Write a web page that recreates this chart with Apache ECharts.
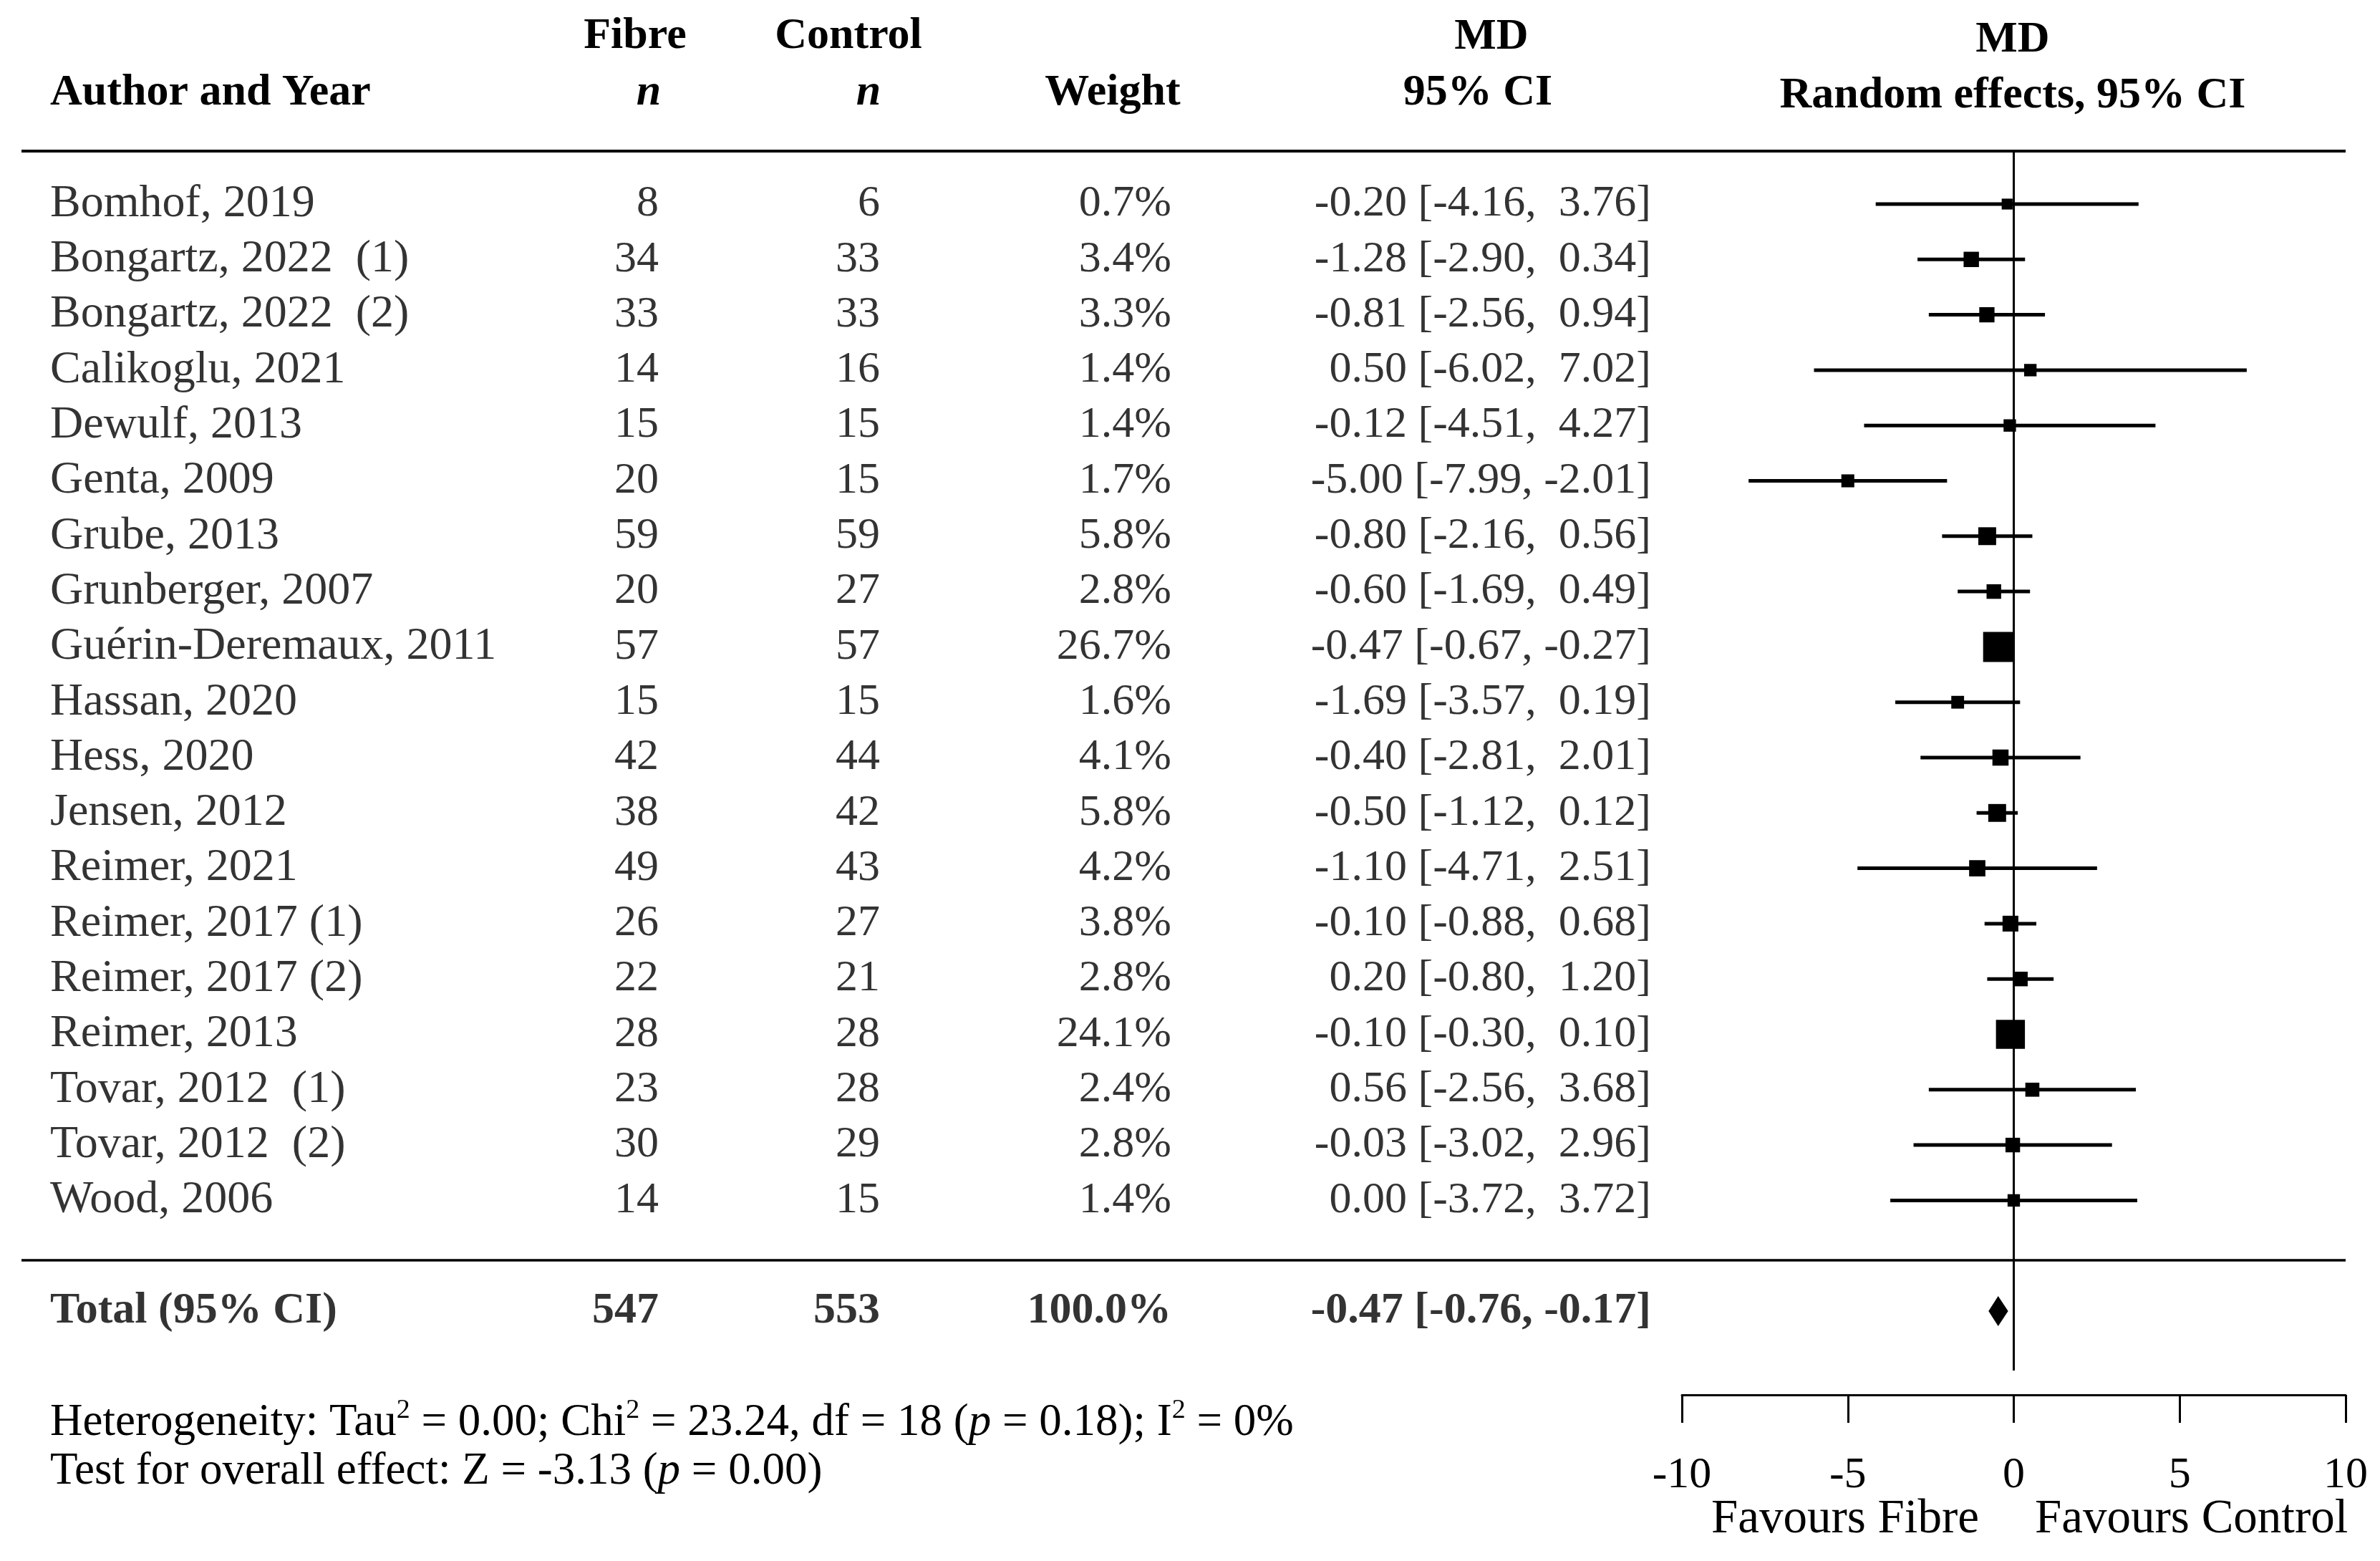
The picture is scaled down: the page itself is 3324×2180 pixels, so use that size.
<!DOCTYPE html>
<html><head><meta charset="utf-8">
<script src="https://cdn.jsdelivr.net/npm/echarts@6/dist/echarts.min.js"></script>
<style>html,body{margin:0;padding:0;background:#fff}#c{width:3324px;height:2180px}</style>
</head><body><div id="c"></div>
<script>
// ---------- data ----------
const studies = ['Bomhof, 2019','Bongartz, 2022  (1)','Bongartz, 2022  (2)','Calikoglu, 2021','Dewulf, 2013','Genta, 2009','Grube, 2013','Grunberger, 2007','Guérin-Deremaux, 2011','Hassan, 2020','Hess, 2020','Jensen, 2012','Reimer, 2021','Reimer, 2017 (1)','Reimer, 2017 (2)','Reimer, 2013','Tovar, 2012  (1)','Tovar, 2012  (2)','Wood, 2006'];
const fibreN   = [8,34,33,14,15,20,59,20,57,15,42,38,49,26,22,28,23,30,14];
const controlN = [6,33,33,16,15,15,59,27,57,15,44,42,43,27,21,28,28,29,15];
const weights  = [0.7,3.4,3.3,1.4,1.4,1.7,5.8,2.8,26.7,1.6,4.1,5.8,4.2,3.8,2.8,24.1,2.4,2.8,1.4];
const meanDiff = [-0.20,-1.28,-0.81,0.50,-0.12,-5.00,-0.80,-0.60,-0.47,-1.69,-0.40,-0.50,-1.10,-0.10,0.20,-0.10,0.56,-0.03,0.00];
const ciLow    = [-4.16,-2.90,-2.56,-6.02,-4.51,-7.99,-2.16,-1.69,-0.67,-3.57,-2.81,-1.12,-4.71,-0.88,-0.80,-0.30,-2.56,-3.02,-3.72];
const ciHigh   = [3.76,0.34,0.94,7.02,4.27,-2.01,0.56,0.49,-0.27,0.19,2.01,0.12,2.51,0.68,1.20,0.10,3.68,2.96,3.72];
const totalLabel = 'Total (95% CI)';
const totalValues = [547, 553, 100.0, -0.47, -0.76, -0.17]; // fibre n, control n, weight, MD, low, high
const xTicks = [-10, -5, 0, 5, 10];
const headers = ['Author and Year','Fibre','Control','n','Weight','MD','95% CI','Random effects, 95% CI'];
const favours = ['Favours Fibre','Favours Control'];

// ---------- layout ----------
const FONT = "'Liberation Serif','Times New Roman',serif";
const FS = 62;
const W = 3324;
const TOP = 211, AXIS_Y = 1948, PLOT_L = 2349, PLOT_R = 3276;
const ROW0 = 285, PITCH = 77.3;
const yMin = -(ROW0 - TOP) / PITCH;
const yMax = yMin + (AXIS_Y - TOP) / PITCH;
const toV = px => yMin + (px - TOP) / PITCH;
const totalRow = studies.length + 1;
const LINE_L = 30;

const fmt2 = v => v.toFixed(2);
const ciText = (m, lo, hi) => fmt2(m) + ' [' + fmt2(lo) + ', ' + (hi >= 0 ? ' ' : '') + fmt2(hi) + ']';

function textColumn(values, totalText, x, pos, fs) {
  const data = values.map((v, i) => ({ value: [x, i], name: String(v) }));
  data.push({ value: [x, totalRow], name: totalText, label: { fontWeight: 'bold', fontSize: FS } });
  return {
    type: 'scatter', xAxisIndex: 1, yAxisIndex: 1, symbolSize: 0.1, clip: false,
    itemStyle: { color: 'rgba(0,0,0,0)' }, silent: true,
    label: { show: true, position: pos, distance: 0, color: '#000', fontSize: fs || FS, fontFamily: FONT,
             formatter: p => p.name },
    data
  };
}

const ciSeries = {
  type: 'custom', xAxisIndex: 0, yAxisIndex: 0, clip: false,
  encode: { x: [0, 1, 2], y: 4 },
  data: studies.map((s, i) => [meanDiff[i], ciLow[i], ciHigh[i], weights[i], i]),
  renderItem: (params, api) => {
    const m = api.value(0), lo = api.value(1), hi = api.value(2), w = api.value(3), r = api.value(4);
    const a = api.coord([lo, r]), b = api.coord([hi, r]), c = api.coord([m, r]);
    const s = 10 + 6.2 * Math.sqrt(w);
    return { type: 'group', children: [
      { type: 'line', shape: { x1: a[0], y1: a[1], x2: b[0], y2: b[1] }, style: { stroke: '#000', lineWidth: 5 } },
      { type: 'rect', shape: { x: c[0] - s / 2, y: c[1] - s / 2, width: s, height: s }, style: { fill: '#000' } }
    ]};
  }
};

const diamondSeries = {
  type: 'custom', xAxisIndex: 0, yAxisIndex: 0, clip: false,
  encode: { x: [0, 1, 2], y: 3 },
  data: [[totalValues[3], totalValues[4], totalValues[5], totalRow]],
  renderItem: (params, api) => {
    const m = api.value(0), lo = api.value(1), hi = api.value(2), r = api.value(3);
    const a = api.coord([lo, r]), b = api.coord([hi, r]), c = api.coord([m, r]);
    const h = 21;
    return { type: 'polygon', shape: { points: [[a[0], a[1]], [c[0], c[1] - h], [b[0], b[1]], [c[0], c[1] + h]] },
             style: { fill: '#000' } };
  }
};

const zeroLine = {
  type: 'line', xAxisIndex: 0, yAxisIndex: 0, symbol: 'none', clip: false, silent: true,
  lineStyle: { color: '#000', width: 3 },
  data: [[0, yMin], [0, toV(1914)]]
};
function hLine(py, width) {
  return { type: 'line', xAxisIndex: 1, yAxisIndex: 1, symbol: 'none', clip: false, silent: true,
           lineStyle: { color: '#000', width }, data: [[LINE_L, toV(py)], [PLOT_R, toV(py)]] };
}

function txt(x, y, text, align, extra) {
  return { type: 'text', x, y, silent: true,
    style: Object.assign({ text, fill: '#000', fontSize: FS, fontFamily: FONT, align, verticalAlign: 'middle' }, extra || {}) };
}
const B = { fontWeight: 'bold' };
const FF = 63;

const graphics = [
  txt(70, 130, headers[0], 'left', B),
  txt(887, 51, headers[1], 'center', B),
  txt(906, 130, headers[3], 'center', { fontWeight: 'bold', fontStyle: 'italic' }),
  txt(1185, 51, headers[2], 'center', B),
  txt(1213, 130, headers[3], 'center', { fontWeight: 'bold', fontStyle: 'italic' }),
  txt(1554, 130, headers[4], 'center', B),
  txt(2083, 52, headers[5], 'center', B),
  txt(2064, 130, headers[6], 'center', B),
  txt(2811, 56, headers[5], 'center', B),
  txt(2811, 134, headers[7], 'center', B),
  txt(2764, 2122, favours[0], 'right', { fontSize: 67 }),
  txt(2842, 2122, favours[1], 'left', { fontSize: 67 }),
  { type: 'text', x: 70, y: 1987, silent: true, style: {
      text: '{t|Heterogeneity: Tau}{s|2}{t| = 0.00; Chi}{s|2}{t| = 23.24, df = 18 (}{i|p}{t| = 0.18); I}{s|2}{t| = 0%}',
      align: 'left', verticalAlign: 'middle', fill: '#000', fontFamily: FONT, fontSize: FF,
      rich: { t: { fontSize: FF, fontFamily: FONT, lineHeight: 72, fill: '#000' },
              i: { fontSize: FF, fontFamily: FONT, lineHeight: 72, fontStyle: 'italic', fill: '#000' },
              s: { fontSize: 38, fontFamily: FONT, lineHeight: 38, verticalAlign: 'top', fill: '#000' } } } },
  { type: 'text', x: 70, y: 2055, silent: true, style: {
      text: '{t|Test for overall effect: Z = -3.13 (}{i|p}{t| = 0.00)}',
      align: 'left', verticalAlign: 'middle', fill: '#000', fontFamily: FONT, fontSize: FF,
      rich: { t: { fontSize: FF, fontFamily: FONT, lineHeight: 72, fill: '#000' },
              i: { fontSize: FF, fontFamily: FONT, lineHeight: 72, fontStyle: 'italic', fill: '#000' } } } }
];

const chart = echarts.init(document.getElementById('c'), null, { renderer: 'canvas' });
chart.setOption({
  backgroundColor: '#fff',
  animation: false,
  textStyle: { fontFamily: FONT, color: '#000' },
  grid: [
    { left: PLOT_L, top: TOP, width: PLOT_R - PLOT_L, height: AXIS_Y - TOP, containLabel: false, outerBoundsMode: 'none' },
    { left: 0, top: TOP, width: W, height: AXIS_Y - TOP, containLabel: false, outerBoundsMode: 'none' }
  ],
  xAxis: [
    { type: 'value', gridIndex: 0, min: xTicks[0], max: xTicks[xTicks.length - 1], interval: xTicks[1] - xTicks[0],
      axisLine: { show: true, onZero: false, lineStyle: { color: '#000', width: 3 } },
      axisTick: { show: true, length: 39, lineStyle: { color: '#000', width: 3 } },
      axisLabel: { show: true, margin: 82, color: '#000', fontSize: FS, fontFamily: FONT,
                   formatter: v => String(v) },
      splitLine: { show: false } },
    { type: 'value', gridIndex: 1, min: 0, max: W, show: false }
  ],
  yAxis: [
    { type: 'value', gridIndex: 0, inverse: true, min: yMin, max: yMax, show: false, splitLine: { show: false } },
    { type: 'value', gridIndex: 1, inverse: true, min: yMin, max: yMax, show: false, splitLine: { show: false } }
  ],
  graphic: graphics,
  series: [
    hLine(TOP, 4),
    hLine(1760, 3.5),
    zeroLine,
    ciSeries,
    diamondSeries,
    textColumn(studies, totalLabel, 70, 'right', 64),
    textColumn(fibreN, String(totalValues[0]), 920, 'left'),
    textColumn(controlN, String(totalValues[1]), 1229, 'left'),
    textColumn(weights.map(w => w.toFixed(1) + '%'), totalValues[2].toFixed(1) + '%', 1636, 'left'),
    textColumn(studies.map((s, i) => ciText(meanDiff[i], ciLow[i], ciHigh[i])),
               ciText(totalValues[3], totalValues[4], totalValues[5]), 2306, 'left')
  ]
});
</script>
</body></html>
